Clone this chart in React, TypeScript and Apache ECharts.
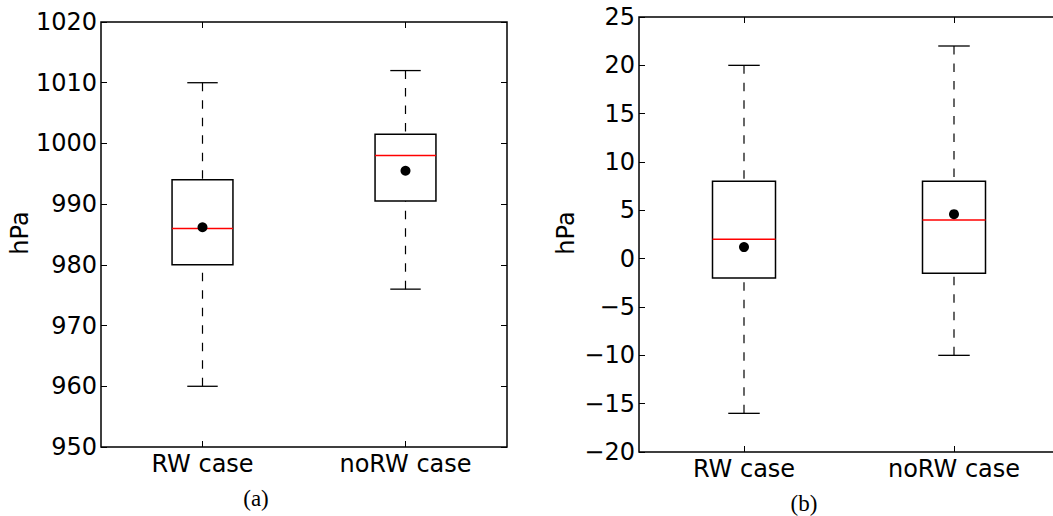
import React, { useEffect, useRef } from "react";
import * as echarts from "echarts";

const categories = ["RW case", "noRW case"];

// panel (a): [min, q1, median, q3, max]
const boxA = [
  [960, 980, 986, 994, 1010],
  [976, 990.5, 998, 1001.5, 1012],
];
const meanA = [986.2, 995.5];

// panel (b)
const boxB = [
  [-16, -2, 2, 8, 20],
  [-10, -1.5, 4, 8, 22],
];
const meanB = [1.2, 4.6];

const yTicksA = { min: 950, max: 1020, interval: 10 };
const yTicksB = { min: -20, max: 25, interval: 5 };

const FONT = "DejaVu Sans";

function renderBox(params: any, api: any) {
  const x = api.value(0);
  const lo = api.value(1);
  const q1 = api.value(2);
  const med = api.value(3);
  const q3 = api.value(4);
  const hi = api.value(5);
  const pLo = api.coord([x, lo]);
  const pQ1 = api.coord([x, q1]);
  const pMed = api.coord([x, med]);
  const pQ3 = api.coord([x, q3]);
  const pHi = api.coord([x, hi]);
  const band = api.size([1, 0])[0];
  const bw = band * 0.3;
  const cw = band * 0.15;
  const cx = pMed[0];
  const dash = { stroke: "#000", lineWidth: 1.2, lineDash: [8.5, 9] };
  return {
    type: "group",
    children: [
      {
        type: "line",
        shape: { x1: cx, y1: pHi[1], x2: cx, y2: pQ3[1] },
        style: dash,
      },
      {
        type: "line",
        shape: { x1: cx, y1: pLo[1], x2: cx, y2: pQ1[1] },
        style: dash,
      },
      {
        type: "line",
        shape: { x1: cx - cw / 2, y1: pHi[1], x2: cx + cw / 2, y2: pHi[1] },
        style: { stroke: "#000", lineWidth: 1.3 },
      },
      {
        type: "line",
        shape: { x1: cx - cw / 2, y1: pLo[1], x2: cx + cw / 2, y2: pLo[1] },
        style: { stroke: "#000", lineWidth: 1.3 },
      },
      {
        type: "rect",
        shape: { x: cx - bw / 2, y: pQ3[1], width: bw, height: pQ1[1] - pQ3[1] },
        style: { stroke: "#000", lineWidth: 1.5, fill: "none" },
      },
      {
        type: "line",
        shape: { x1: cx - bw / 2, y1: pMed[1], x2: cx + bw / 2, y2: pMed[1] },
        style: { stroke: "#ff0000", lineWidth: 1.5 },
      },
    ],
  };
}

export default function App() {
  const ref = useRef<HTMLDivElement>(null);
  useEffect(() => {
    if (!ref.current) return;
    const chart = echarts.init(ref.current, null, { renderer: "svg" });
    const fmt = (v: number) => String(v).replace("-", "\u2212");
    const mkX = (gi: number, pos: "bottom" | "top") => ({
      type: "category",
      gridIndex: gi,
      position: pos,
      data: categories,
      boundaryGap: true,
      axisLine: { show: false, onZero: false },
      axisTick: {
        show: true,
        inside: true,
        alignWithLabel: true,
        length: 6,
        lineStyle: { color: "#000", width: 1 },
      },
      axisLabel: {
        show: pos === "bottom",
        color: "#000",
        fontFamily: FONT,
        fontSize: 24,
        margin: 5,
      },
      splitLine: { show: false },
    });
    const mkY = (gi: number, pos: "left" | "right", t: any) => ({
      type: "value",
      gridIndex: gi,
      position: pos,
      min: t.min,
      max: t.max,
      interval: t.interval,
      axisLine: { show: false, onZero: false },
      axisTick: {
        show: true,
        inside: true,
        length: 6,
        lineStyle: { color: "#000", width: 1 },
      },
      axisLabel: {
        show: pos === "left",
        color: "#000",
        fontFamily: FONT,
        fontSize: 24,
        margin: 4,
        formatter: fmt,
      },
      splitLine: { show: false },
    });
    const meanSeries = (xi: number, yi: number, vals: number[]) => ({
      type: "scatter",
      xAxisIndex: xi,
      yAxisIndex: yi,
      symbol: "circle",
      symbolSize: 10,
      z: 5,
      itemStyle: { color: "#000", opacity: 1 },
      data: vals.map((m, i) => [i, m]),
    });
    const option: any = {
      animation: false,
      backgroundColor: "#fff",
      grid: [
        { left: 101, top: 22, width: 406, height: 425, show: true, borderColor: "#000", borderWidth: 1.5, backgroundColor: "transparent", outerBoundsMode: "none", containLabel: false },
        { left: 639, top: 17, width: 420, height: 435, show: true, borderColor: "#000", borderWidth: 1.5, backgroundColor: "transparent", outerBoundsMode: "none", containLabel: false },
      ],
      xAxis: [mkX(0, "bottom"), mkX(0, "top"), mkX(1, "bottom"), mkX(1, "top")],
      yAxis: [mkY(0, "left", yTicksA), mkY(0, "right", yTicksA), mkY(1, "left", yTicksB), mkY(1, "right", yTicksB)],
      series: [
        {
          type: "custom",
          xAxisIndex: 0,
          yAxisIndex: 0,
          renderItem: renderBox,
          encode: { x: 0, y: [1, 2, 3, 4, 5] },
          data: boxA.map((b, i) => [i, ...b]),
        },
        meanSeries(0, 0, meanA),
        {
          type: "custom",
          xAxisIndex: 2,
          yAxisIndex: 2,
          renderItem: renderBox,
          encode: { x: 0, y: [1, 2, 3, 4, 5] },
          data: boxB.map((b, i) => [i, ...b]),
        },
        meanSeries(2, 2, meanB),
      ],
      graphic: [
        {
          type: "text",
          x: 20,
          y: 233,
          rotation: Math.PI / 2,
          style: { text: "hPa", font: `24px "${FONT}"`, fill: "#000", textAlign: "center", textVerticalAlign: "middle" },
        },
        {
          type: "text",
          x: 566,
          y: 233,
          rotation: Math.PI / 2,
          style: { text: "hPa", font: `24px "${FONT}"`, fill: "#000", textAlign: "center", textVerticalAlign: "middle" },
        },
        {
          type: "text",
          x: 256,
          y: 498,
          style: { text: "(a)", font: `23px "Liberation Serif"`, fill: "#000", textAlign: "center", textVerticalAlign: "middle" },
        },
        {
          type: "text",
          x: 804,
          y: 503,
          style: { text: "(b)", font: `23px "Liberation Serif"`, fill: "#000", textAlign: "center", textVerticalAlign: "middle" },
        },
      ],
    };
    chart.setOption(option);
    return () => chart.dispose();
  }, []);
  return (
    <div
      ref={ref}
      style={{ position: "absolute", left: 0, top: 0, width: 1053, height: 516 }}
    />
  );
}
